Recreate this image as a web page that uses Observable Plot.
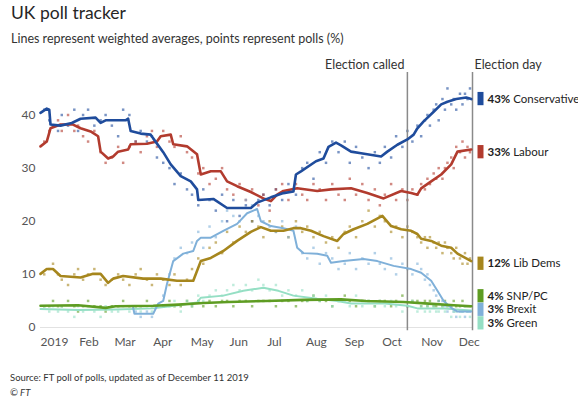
<!DOCTYPE html>
<html><head><meta charset="utf-8">
<script src="https://cdn.jsdelivr.net/npm/d3@7"></script>
<script src="https://cdn.jsdelivr.net/npm/@observablehq/plot@0.6"></script>
<style>
body{margin:0;background:#fff;font-family:Lato,"Noto Sans",sans-serif;}
#wrap{position:relative;width:578px;height:397px;overflow:hidden;}
#title{position:absolute;left:11px;top:2px;font-size:17.5px;color:#262626;white-space:nowrap;}
#sub{position:absolute;left:11px;top:31px;font-size:12.5px;color:#333;white-space:nowrap;}
#chart{position:absolute;left:0;top:52px;}
#src{position:absolute;left:10px;top:372px;font-size:9.5px;color:#333;white-space:nowrap;}
#ft{position:absolute;left:10px;top:387px;font-size:9.5px;font-style:italic;color:#333;}
</style>
</head><body>
<div id="wrap">
<div id="title">UK poll tracker</div>
<div id="sub">Lines represent weighted averages, points represent polls (%)</div>
<div id="chart"></div>
<div id="src">Source: FT poll of polls, updated as of December 11 2019</div>
<div id="ft">© FT</div>
</div>
<script>
const parties = ["Conservative","Labour","Lib Dems","SNP/PC","Brexit","Green"];
const colors = ["#1f4c9c","#b23b2e","#a6861d","#5e9c22","#7fb0d9","#95dfc4"];
const latestValues = [43,33,12,4,3,3];
const monthLabels = ["2019","Feb","Mar","Apr","May","Jun","Jul","Aug","Sep","Oct","Nov","Dec"];
const yTicks = [0,10,20,30,40];
const events = [["2019-10-21","Election called"],["2019-12-12","Election day"]];

const conLine = [["2019-01-01",40.4],["2019-01-06",41.2],["2019-01-08",41.0],["2019-01-09",38.2],["2019-01-17",38.0],["2019-01-26",38.5],["2019-02-02",39.3],["2019-02-14",39.5],["2019-02-18",38.5],["2019-02-22",39.0],["2019-03-10",39.0],["2019-03-12",39.3],["2019-03-14",37.0],["2019-03-22",36.5],["2019-03-30",36.3],["2019-04-01",35.6],["2019-04-09",33.0],["2019-04-15",30.7],["2019-04-23",28.5],["2019-05-01",27.5],["2019-05-06",26.0],["2019-05-07",24.0],["2019-05-19",24.2],["2019-05-30",22.5],["2019-06-12",22.5],["2019-06-18",22.5],["2019-06-23",23.5],["2019-07-04",24.5],["2019-07-10",25.0],["2019-07-14",25.3],["2019-07-22",25.6],["2019-07-24",28.8],["2019-07-28",29.4],["2019-08-09",31.3],["2019-08-15",31.8],["2019-08-19",34.0],["2019-08-25",34.8],["2019-08-29",34.3],["2019-09-06",33.1],["2019-09-14",32.8],["2019-09-30",32.2],["2019-10-05",33.1],["2019-10-13",34.4],["2019-10-21",35.4],["2019-10-26",36.3],["2019-10-29",37.5],["2019-11-03",38.8],["2019-11-11",40.6],["2019-11-17",42.0],["2019-11-22",42.5],["2019-11-29",43.0],["2019-12-07",43.3],["2019-12-11",43.0]];
const labLine = [["2019-01-01",34.1],["2019-01-06",35.0],["2019-01-09",37.5],["2019-01-17",38.2],["2019-01-27",38.2],["2019-02-02",37.5],["2019-02-10",36.9],["2019-02-16",36.0],["2019-02-18",33.1],["2019-02-24",31.8],["2019-02-28",32.2],["2019-03-04",33.1],["2019-03-12",33.5],["2019-03-14",34.5],["2019-03-27",34.6],["2019-04-04",35.0],["2019-04-07",36.0],["2019-04-15",36.3],["2019-04-17",34.5],["2019-04-28",34.1],["2019-05-06",32.6],["2019-05-09",28.8],["2019-05-17",29.4],["2019-05-25",29.4],["2019-05-30",27.5],["2019-06-07",26.6],["2019-06-18",25.5],["2019-06-28",24.3],["2019-07-04",23.8],["2019-07-09",25.0],["2019-07-14",25.7],["2019-07-25",26.2],["2019-08-10",25.7],["2019-08-21",26.0],["2019-09-06",26.2],["2019-09-19",25.3],["2019-10-02",24.3],["2019-10-16",25.7],["2019-10-24",25.3],["2019-10-29",25.0],["2019-11-01",26.2],["2019-11-09",27.5],["2019-11-17",28.8],["2019-11-25",30.7],["2019-11-30",33.1],["2019-12-11",33.5]];
const ldLine = [["2019-01-01",10.1],["2019-01-06",11.0],["2019-01-11",11.0],["2019-01-17",9.7],["2019-02-02",9.4],["2019-02-12",10.1],["2019-02-18",10.1],["2019-02-24",8.4],["2019-02-28",9.2],["2019-03-08",9.7],["2019-03-24",9.2],["2019-04-07",9.2],["2019-04-20",8.8],["2019-05-03",8.8],["2019-05-09",12.5],["2019-05-17",13.1],["2019-05-27",14.4],["2019-06-07",16.3],["2019-06-18",18.0],["2019-06-26",18.9],["2019-07-04",18.2],["2019-07-14",18.2],["2019-07-22",18.7],["2019-07-28",18.7],["2019-08-05",18.2],["2019-08-15",17.2],["2019-08-26",16.3],["2019-08-31",17.6],["2019-09-08",18.5],["2019-09-19",19.5],["2019-10-01",21.0],["2019-10-08",19.1],["2019-10-16",18.5],["2019-10-24",18.2],["2019-10-29",17.6],["2019-11-01",16.7],["2019-11-09",16.3],["2019-11-17",15.4],["2019-11-25",15.0],["2019-11-30",13.9],["2019-12-11",12.5]];
const snpLine = [["2019-01-01",4.1],["2019-01-31",4.2],["2019-02-22",3.7],["2019-03-02",4.0],["2019-04-01",4.1],["2019-04-21",4.3],["2019-05-11",4.6],["2019-05-31",4.8],["2019-06-30",5.0],["2019-07-30",5.2],["2019-08-29",5.3],["2019-09-18",5.0],["2019-10-18",4.8],["2019-11-07",4.5],["2019-11-27",4.2],["2019-12-11",4.0]];
const brxLine = [["2019-03-16",3.7],["2019-03-17",2.6],["2019-04-01",2.6],["2019-04-05",4.5],["2019-04-09",5.0],["2019-04-12",8.2],["2019-04-17",12.5],["2019-04-25",13.9],["2019-05-03",14.4],["2019-05-06",16.3],["2019-05-09",16.9],["2019-05-17",16.9],["2019-05-27",18.2],["2019-06-07",19.5],["2019-06-15",21.5],["2019-06-23",22.3],["2019-06-26",20.0],["2019-07-04",19.1],["2019-07-14",18.7],["2019-07-22",18.2],["2019-07-25",15.0],["2019-07-30",14.0],["2019-08-10",13.9],["2019-08-18",13.5],["2019-08-21",12.2],["2019-08-31",12.5],["2019-09-16",12.9],["2019-09-27",12.5],["2019-10-10",11.6],["2019-10-24",11.0],["2019-11-01",10.3],["2019-11-09",8.8],["2019-11-14",6.9],["2019-11-19",5.0],["2019-11-25",3.7],["2019-11-30",3.0],["2019-12-11",3.0]];
const grnLine = [["2019-01-01",3.5],["2019-01-31",3.3],["2019-03-02",3.4],["2019-04-01",3.6],["2019-04-21",4.2],["2019-05-06",4.7],["2019-05-09",5.6],["2019-05-27",6.0],["2019-06-12",6.9],["2019-06-28",7.5],["2019-07-10",6.9],["2019-07-22",6.0],["2019-08-10",5.4],["2019-08-26",5.0],["2019-09-06",4.5],["2019-10-03",4.5],["2019-10-21",4.1],["2019-10-29",3.6],["2019-11-17",3.6],["2019-12-11",3.2]];

const pollDates = ["2019-01-04","2019-01-08","2019-01-11","2019-01-15","2019-01-18","2019-01-23","2019-01-28","2019-01-31","2019-02-04","2019-02-08","2019-02-13","2019-02-18","2019-02-22","2019-02-27","2019-03-04","2019-03-08","2019-03-13","2019-03-18","2019-03-22","2019-03-27","2019-03-31","2019-04-04","2019-04-09","2019-04-14","2019-04-18","2019-04-23","2019-04-28","2019-05-02","2019-05-07","2019-05-11","2019-05-16","2019-05-21","2019-05-26","2019-05-30","2019-06-04","2019-06-09","2019-06-14","2019-06-19","2019-06-24","2019-06-28","2019-07-03","2019-07-08","2019-07-13","2019-07-18","2019-07-24","2019-07-29","2019-08-02","2019-08-07","2019-08-12","2019-08-17","2019-08-22","2019-08-27","2019-09-01","2019-09-05","2019-09-10","2019-09-15","2019-09-20","2019-09-25","2019-09-29","2019-10-03","2019-10-08","2019-10-12","2019-10-17","2019-10-21","2019-10-25","2019-10-29","2019-11-01","2019-11-04","2019-11-06","2019-11-08","2019-11-11","2019-11-13","2019-11-15","2019-11-18","2019-11-20","2019-11-22","2019-11-25","2019-11-27","2019-11-29","2019-12-02","2019-12-04","2019-12-06","2019-12-08","2019-12-10"];
const conPolls = [41,39,38,37,40,38,41,37,40,41,38,39,40,38,36,41,40,35,37,35,36,32,31,30,27,29,26,25,23,26,24,22,25,20,24,21,23,20,24,25,23,26,24,27,25,30,31,28,33,31,35,33,35,31,34,32,30,33,31,34,32,36,34,37,35,38,36,39,40,38,41,42,39,43,41,45,42,43,41,44,42,44,43,45];
const labPolls = [35,37,38,39,37,40,37,38,36,35,37,33,31,32,34,31,34,35,33,36,37,34,37,35,34,36,33,32,29,30,27,28,30,26,25,27,24,26,23,25,22,26,27,24,27,25,24,27,26,24,27,25,24,28,25,27,24,26,23,25,27,24,26,24,26,25,27,26,28,27,29,28,30,28,30,31,32,30,34,33,35,32,34,33];
const ldPolls = [10,11,12,10,9,8,10,11,9,10,11,9,8,9,10,9,8,10,11,9,8,10,9,8,10,8,9,11,13,12,15,16,14,18,16,19,18,20,19,17,20,18,19,17,20,18,19,17,18,16,17,15,18,19,17,20,22,19,21,20,18,19,17,19,18,17,16,17,15,17,16,15,16,14,16,15,14,13,15,13,12,14,12,13];
const snpPolls = [4,4,5,4,4,5,4,3,4,5,4,4,3,4,4,5,4,4,4,5,4,4,4,5,4,4,5,4,5,4,5,4,5,5,4,5,5,4,5,5,5,4,5,5,4,5,5,6,5,5,4,5,6,5,4,5,5,4,5,5,4,5,6,4,5,5,4,5,4,5,4,4,5,4,5,4,4,5,4,4,5,4,4,4];
const brxPolls = [null,null,null,null,null,null,null,null,null,null,null,null,null,null,null,null,null,3,2,3,2,4,6,10,13,15,14,16,18,15,19,17,20,22,21,20,24,23,21,20,19,18,20,17,19,14,13,15,12,14,13,11,12,14,11,13,12,14,12,11,13,10,12,11,10,12,11,9,10,8,7,6,5,5,4,3,4,3,2,3,3,2,3,3];
const grnPolls = [4,3,4,3,4,3,2,4,3,4,3,2,4,3,3,4,3,4,3,4,3,4,4,4,5,3,5,4,6,5,6,7,6,7,8,7,8,7,9,8,7,8,6,7,6,7,5,6,5,6,4,5,5,4,6,4,5,4,5,4,5,4,3,4,5,3,4,3,4,3,4,3,3,4,3,4,2,3,3,2,3,4,3,2];

const parse = d3.utcParse("%Y-%m-%d");
const lineSeries = [conLine, labLine, ldLine, snpLine, brxLine, grnLine];
const pollSeries = [conPolls, labPolls, ldPolls, snpPolls, brxPolls, grnPolls];
const lineData = parties.flatMap((p,i)=>lineSeries[i].map(([d,v])=>({party:p,date:parse(d),value:v})));
const pollData = parties.flatMap((p,i)=>pollDates.map((d,j)=>({party:p,date:parse(d),value:pollSeries[i][j]}))).filter(d=>d.value!=null);
const colorOf = Object.fromEntries(parties.map((p,i)=>[p,colors[i]]));
const endDate = parse("2019-12-12");
const eventData = events.map(([d,l])=>({date:parse(d),label:l}));

// legend label positions: simple dodge in value units
const gap = 2.55;
const items = parties.map((p,i)=>({party:p,value:latestValues[i],y:latestValues[i],color:colors[i]}));
for (let it=0; it<300; it++){
  let moved=false;
  for (let i=1;i<items.length;i++){
    const d = items[i-1].y - items[i].y;
    if (d < gap-1e-6){ const s=(gap-d)/2; items[i-1].y+=s; items[i].y-=s; moved=true; }
  }
  if(!moved) break;
}

const drawOrder = ["Green","Brexit","SNP/PC","Lib Dems","Labour","Conservative"];
const widths = {"Conservative":2.6,"Labour":2.6,"Lib Dems":2.6,"SNP/PC":2.6,"Brexit":2,"Green":2};

const marks = [
  Plot.ruleY([0], {stroke:"#e2e2e2"}),
  Plot.dot(pollData, {x:"date", y:"value", symbol:"square", r:1.4, fill:d=>colorOf[d.party], fillOpacity:0.6, stroke:"none"}),
  Plot.ruleX(eventData, {x:"date", y1:-0.6, y2:48, stroke:"#8a8a8a", strokeWidth:1.5}),
  ...drawOrder.map(p=>Plot.line(lineData.filter(d=>d.party===p), {x:"date", y:"value", stroke:colorOf[p], strokeWidth:widths[p], strokeLinejoin:"round"})),
  Plot.text(eventData.slice(0,1), {x:"date", y:48, text:"label", textAnchor:"end", dx:-3, dy:-8, fontSize:12.5, fill:"#333"}),
  Plot.text(eventData.slice(1), {x:"date", y:48, text:"label", textAnchor:"start", dx:2, dy:-8, fontSize:12.5, fill:"#333"}),
  Plot.ruleX(items, {x:()=>endDate, y1:d=>d.y-1.25, y2:d=>d.y+1.25, stroke:"color", strokeWidth:6, dx:8}),
  Plot.text(items, {x:()=>endDate, y:"y", text:d=>`${d.value}%|${d.party}`, textAnchor:"start", dx:15, fontSize:11.5, fill:"#222"}),
  Plot.axisY({ticks:yTicks, tickSize:0, tickPadding:5, fontSize:12, fill:"#555", label:null}),
  Plot.axisX({ticks:d3.utcMonth.range(parse("2019-01-01"), parse("2019-12-02")), tickFormat:d=>monthLabels[d.getUTCMonth()], textAnchor:"start", tickSize:0, tickPadding:10, fontSize:12, fill:"#555", label:null})
];

const svg = Plot.plot({
  width:578, height:300,
  marginLeft:40, marginRight:106, marginTop:20, marginBottom:25,
  style:{fontFamily:"Lato, 'Noto Sans', sans-serif", fontSize:"12px", background:"transparent"},
  x:{type:"utc", domain:[parse("2019-01-01"), endDate]},
  y:{domain:[0,48]},
  marks
});
d3.select(svg).selectAll("text").each(function(){
  const t = this.textContent;
  if (t.includes("|")){
    const [a,b] = t.split("|");
    const s = d3.select(this); s.text(null);
    s.append("tspan").attr("font-weight","bold").text(a);
    s.append("tspan").text(" "+b);
  }
});
document.getElementById("chart").appendChild(svg);
</script>
</body></html>
